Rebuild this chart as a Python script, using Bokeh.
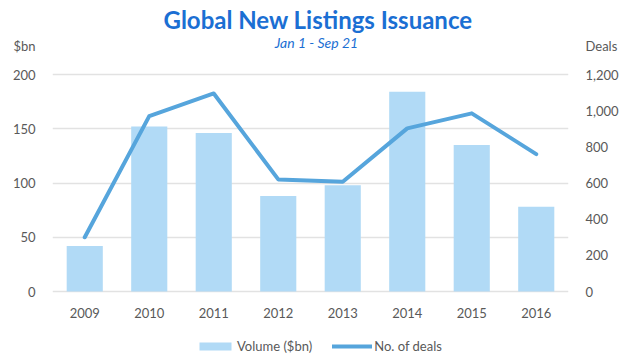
from bokeh.plotting import figure
from bokeh.models import (ColumnDataSource, Range1d, LinearAxis, FixedTicker,
                          NumeralTickFormatter, Legend, LegendItem, Title, Label)
from bokeh.core.properties import value
from bokeh.embed import file_html
from bokeh.resources import INLINE

years = ["2009", "2010", "2011", "2012", "2013", "2014", "2015", "2016"]
volume = [42, 152, 146, 88, 98, 184, 135, 78]
deals = [300, 970, 1095, 620, 607, 902, 985, 760]
left_ticks = [0, 50, 100, 150, 200]
right_ticks = [0, 200, 400, 600, 800, 1000, 1200]
left_unit = "$bn"
right_unit = "Deals"

FONT = "Lato"
TXT = "#595959"
BAR = "#b1daf6"
LINE = "#56a5dc"
TITLE = "#1b6fd3"

PX200 = 217            # pixels for 0..200
PX_ABOVE = 258         # pixels from 0 to the frame top (holds unit labels)
PX_BELOW = 69          # pixels below 0 (holds year labels and legend)
y_end = 200 * PX_ABOVE / PX200
y_start = -200 * PX_BELOW / PX200
label_y = -200 * 21 / PX200
unit_pos = 226         # left-axis position of the unit label row

src = ColumnDataSource(dict(year=years, volume=volume, deals=deals,
                            ly=[label_y] * len(years)))

p = figure(x_range=years, y_range=Range1d(y_start, y_end),
           frame_width=516, frame_height=PX_ABOVE + PX_BELOW,
           x_axis_location=None,
           output_backend="svg", toolbar_location=None, title=None,
           min_border_left=52, min_border_right=72, min_border_top=33,
           min_border_bottom=0)
p.extra_y_ranges = {"deals": Range1d(y_start * 6, y_end * 6)}
p.outline_line_color = None
p.background_fill_color = "white"

bars = p.vbar(x="year", top="volume", bottom=0, width=0.56, source=src,
              fill_color=BAR, line_color=None)
line = p.line(x="year", y="deals", source=src, y_range_name="deals",
              line_color=LINE, line_width=4, line_cap="round", line_join="round")

# year labels drawn as text below the zero line
p.text(x="year", y="ly", text="year", source=src, text_align="center",
       text_baseline="middle", text_font=value(FONT), text_font_size="13px",
       text_color=TXT)

for g in p.xgrid:
    g.grid_line_color = None
for g in p.ygrid:
    g.ticker = FixedTicker(ticks=left_ticks)
    g.grid_line_color = "#e2e2e2"
    g.grid_line_width = 1.5

lax = p.yaxis[0]
lax.ticker = FixedTicker(ticks=left_ticks + [unit_pos])
lax.major_label_overrides = {unit_pos: left_unit}
lax.axis_line_color = None
lax.major_tick_line_color = None
lax.minor_tick_line_color = None
lax.major_label_text_font = FONT
lax.major_label_text_font_size = "13px"
lax.major_label_text_color = TXT
lax.major_label_standoff = 11

rax = LinearAxis(y_range_name="deals",
                 ticker=FixedTicker(ticks=right_ticks + [unit_pos * 6]),
                 formatter=NumeralTickFormatter(format="0,0"))
rax.major_label_overrides = {unit_pos * 6: right_unit}
rax.axis_line_color = None
rax.major_tick_line_color = None
rax.minor_tick_line_color = None
rax.major_label_text_font = FONT
rax.major_label_text_font_size = "13px"
rax.major_label_text_color = TXT
rax.major_label_standoff = 11
p.add_layout(rax, "right")

main = Title(text="Global New Listings Issuance", align="left", text_font=FONT,
             text_font_size="24px", text_font_style="bold", text_color=TITLE,
             standoff=0, offset=111)
p.add_layout(main, "above")

# subtitle inside the frame; screen units are frame-relative (from bottom-left)
p.add_layout(Label(x=264, y=249 + PX_BELOW, x_units="screen", y_units="screen",
                   text="Jan 1 - Sep 21", text_align="center",
                   text_baseline="middle", text_font=FONT,
                   text_font_size="14px", text_font_style="italic",
                   text_color=TITLE))

legend = Legend(items=[LegendItem(label="Volume ($bn)", renderers=[bars]),
                       LegendItem(label="No. of deals", renderers=[line])],
                orientation="horizontal", location=(143, 6),
                label_text_font=FONT, label_text_font_size="13px",
                label_text_color=TXT, glyph_width=40, glyph_height=10,
                label_height=16, label_standoff=2, spacing=20,
                border_line_color=None, background_fill_alpha=0,
                margin=0, padding=0)
p.add_layout(legend)

open("out.html", "w").write(file_html(p, INLINE))
